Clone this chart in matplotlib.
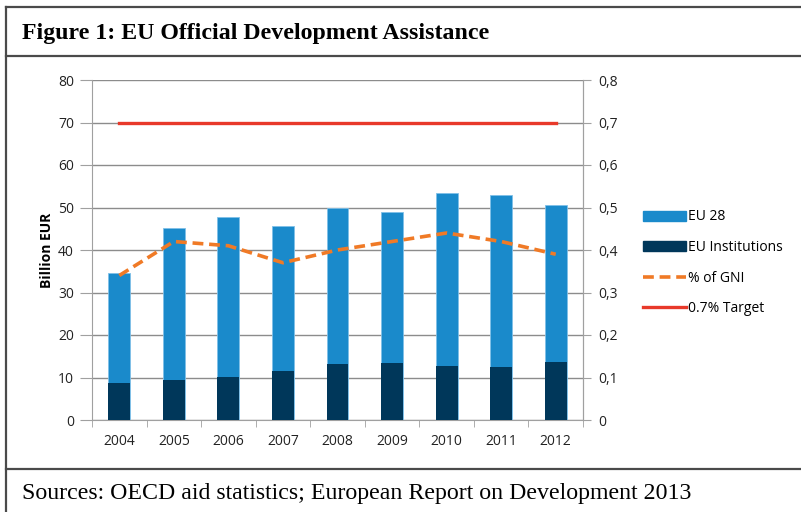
import numpy as np
import matplotlib.pyplot as plt
from matplotlib.lines import Line2D
from matplotlib.patches import Patch
from matplotlib.ticker import FuncFormatter

years = ['2004', '2005', '2006', '2007', '2008', '2009', '2010', '2011', '2012']
eu28 = [34.7, 45.2, 47.7, 45.6, 49.9, 49.0, 53.4, 52.9, 50.6]
eu_institutions = [8.6, 9.4, 10.1, 11.5, 13.2, 13.4, 12.6, 12.4, 13.6]
gni_share = [0.34, 0.42, 0.41, 0.37, 0.40, 0.42, 0.44, 0.42, 0.39]
target = [0.7] * len(years)

c_eu28 = '#1a8acb'
c_inst = '#00375a'
c_gni = '#f07a26'
c_target = '#e8392a'

plt.rcParams['font.family'] = ['Open Sans', 'DejaVu Sans']

W, H = 801, 512
fig = plt.figure(figsize=(W / 100, H / 100), dpi=100)

# frame around the figure (pixel coordinates converted to figure fractions)
def hline(y, x0=6, x1=W):
    fig.add_artist(Line2D([x0 / W, x1 / W], [1 - y / H, 1 - y / H], color='#4a4a4a', lw=1.6))

def vline(x, y0=7, y1=H):
    fig.add_artist(Line2D([x / W, x / W], [1 - y0 / H, 1 - y1 / H], color='#4a4a4a', lw=1.6))

hline(7)
hline(56)
hline(469)
vline(6)

fig.text(22 / W, 1 - 33 / H, 'Figure 1: EU Official Development Assistance',
         family='Liberation Serif', weight='bold', fontsize=17.2, va='center', ha='left')
fig.text(22 / W, 1 - 494 / H, 'Sources: OECD aid statistics; European Report on Development 2013',
         family='Liberation Serif', fontsize=17.2, va='center', ha='left')

ax = fig.add_axes([92 / W, 1 - 420 / H, (583 - 92) / W, (420 - 80) / H])
x = np.arange(len(years))

ax.set_axisbelow(True)
ax.yaxis.grid(True, color='#8c8c8c', lw=1)
ax.bar(x, eu28, width=0.4, color=c_eu28, edgecolor='#7fc0e8', lw=0.6, zorder=2)
ax.bar(x, eu_institutions, width=0.4, color=c_inst, zorder=3)

ax.set_xlim(-0.5, len(years) - 0.5)
ax.set_ylim(0, 80)
ax.set_yticks(range(0, 81, 10))
ax.set_xticks(x)
ax.set_xticklabels(years)
ax.set_xticks(np.arange(-0.5, len(years), 1), minor=True)
ax.tick_params(axis='x', which='major', length=0, pad=10, labelsize=10, colors='#222222')
ax.tick_params(axis='x', which='minor', length=5, color='#a0a0a0')
ax.tick_params(axis='y', length=9, color='#a0a0a0', labelsize=10, pad=4, labelcolor='#222222')
ax.set_ylabel('Billion EUR', weight='bold', fontsize=10, labelpad=3)

ax.spines['top'].set_visible(False)
for s in ['left', 'right', 'bottom']:
    ax.spines[s].set_color('#a0a0a0')

ax2 = ax.twinx()
ax2.plot(x, gni_share, color=c_gni, lw=2.6, dashes=(3, 1.6), zorder=4)
ax2.plot(x, target, color=c_target, lw=2.4, zorder=4)
ax2.set_ylim(0, 0.8)
ax2.set_yticks(np.arange(0, 0.81, 0.1))
ax2.yaxis.set_major_formatter(FuncFormatter(lambda v, p: '0' if abs(v) < 1e-9 else f'{v:.1f}'.replace('.', ',')))
ax2.tick_params(axis='y', length=6, color='#a0a0a0', labelsize=10, pad=5, labelcolor='#222222')
for s in ['top', 'left', 'bottom']:
    ax2.spines[s].set_visible(False)
ax2.spines['right'].set_color('#a0a0a0')

handles = [
    Patch(color=c_eu28, label='EU 28'),
    Patch(color=c_inst, label='EU Institutions'),
    Line2D([], [], color=c_gni, lw=2.6, dashes=(3, 1.6), label='% of GNI'),
    Line2D([], [], color=c_target, lw=2.4, label='0.7% Target'),
]
fig.legend(handles=handles, loc='upper left', bbox_to_anchor=(630 / W, 1 - 197 / H),
           frameon=False, fontsize=10, handlelength=3.1, handletextpad=0.2,
           labelspacing=1.12)

fig.savefig('out.png', dpi=100)
